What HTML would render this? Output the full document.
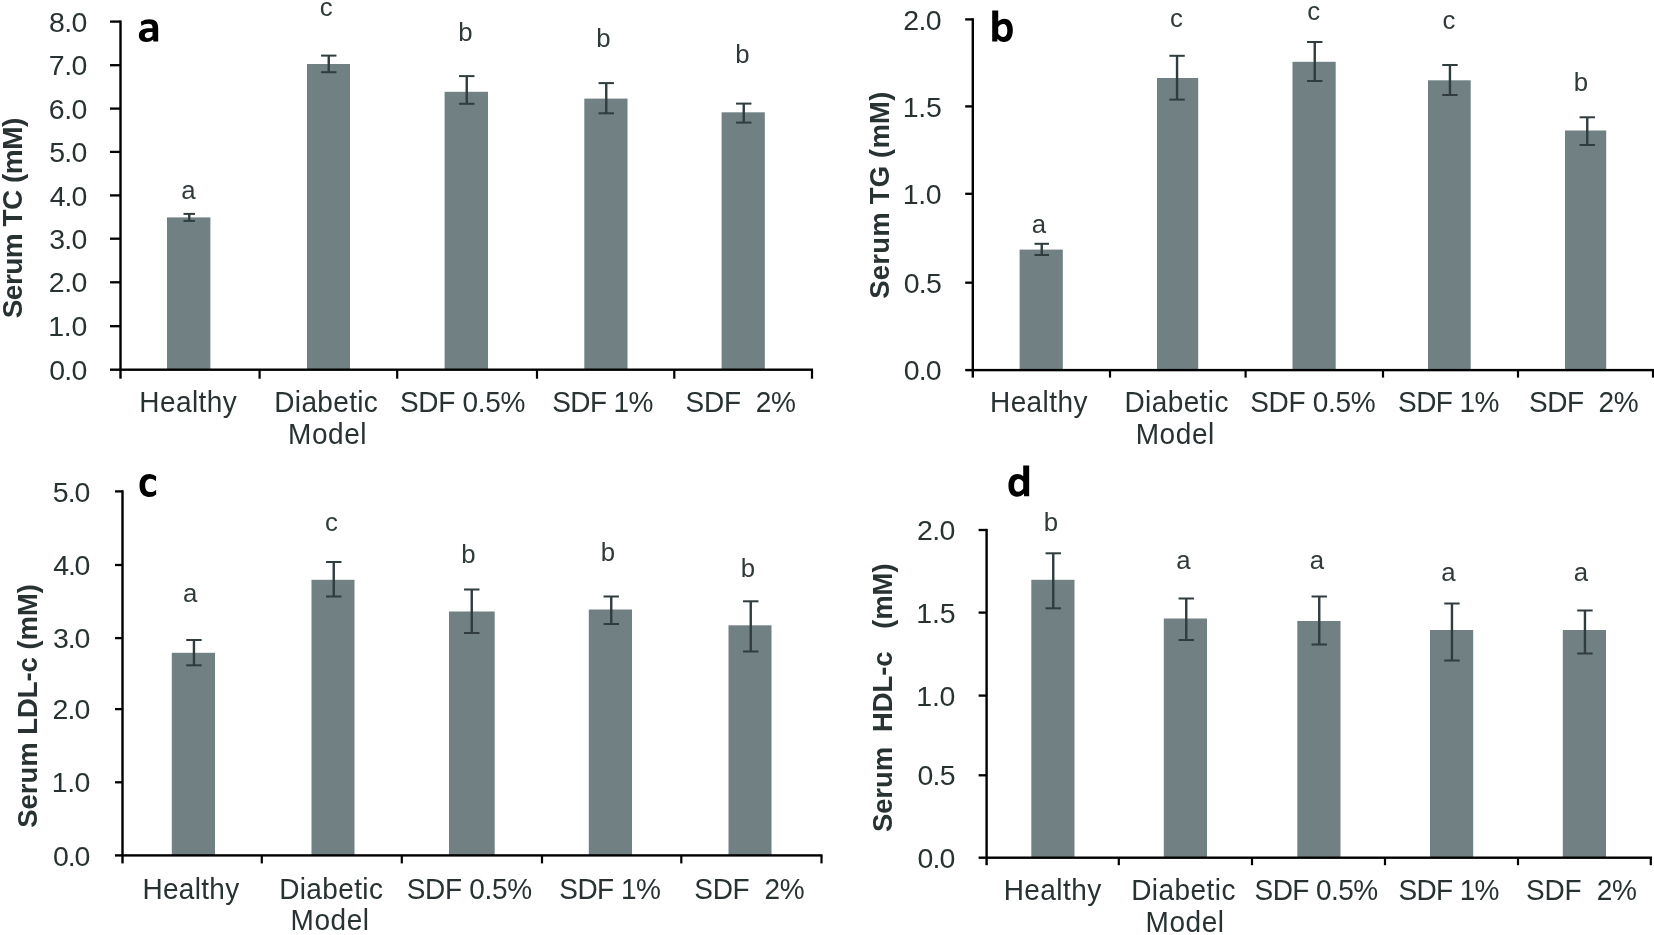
<!DOCTYPE html>
<html>
<head>
<meta charset="utf-8">
<title>Serum lipid levels</title>
<style>
html,body{margin:0;padding:0;background:#fff;}
body{width:1654px;height:935px;overflow:hidden;font-family:"Liberation Sans",sans-serif;}
svg{display:block;will-change:transform;}
svg text{font-family:"Liberation Sans",sans-serif;font-kerning:none;white-space:pre;}
</style>
</head>
<body>
<svg width="1654" height="935" viewBox="0 0 1654 935">
<rect x="0" y="0" width="1654" height="935" fill="#ffffff"/>
<g>
<rect x="167" y="217.4" width="43.4" height="152.3" fill="#708083"/>
<rect x="307" y="64" width="43" height="305.7" fill="#708083"/>
<rect x="444.6" y="91.8" width="43.4" height="277.9" fill="#708083"/>
<rect x="584.3" y="98.6" width="43.2" height="271.1" fill="#708083"/>
<rect x="721.6" y="112.3" width="43.2" height="257.4" fill="#708083"/>
<rect x="188.05" y="213.9" width="2.4" height="7" fill="#303c3e"/>
<rect x="183.5" y="212.9" width="11.5" height="2" fill="#303c3e"/>
<rect x="183.5" y="219.9" width="11.5" height="2" fill="#303c3e"/>
<rect x="327.55" y="55.6" width="2.4" height="16.6" fill="#303c3e"/>
<rect x="321.05" y="54.6" width="15.4" height="2" fill="#303c3e"/>
<rect x="321.05" y="71.2" width="15.4" height="2" fill="#303c3e"/>
<rect x="465.55" y="76.1" width="2.4" height="27.7" fill="#303c3e"/>
<rect x="459.05" y="75.1" width="15.4" height="2" fill="#303c3e"/>
<rect x="459.05" y="102.8" width="15.4" height="2" fill="#303c3e"/>
<rect x="605.05" y="83.1" width="2.4" height="30.2" fill="#303c3e"/>
<rect x="598.55" y="82.1" width="15.4" height="2" fill="#303c3e"/>
<rect x="598.55" y="112.3" width="15.4" height="2" fill="#303c3e"/>
<rect x="742.55" y="103.6" width="2.4" height="19" fill="#303c3e"/>
<rect x="736.05" y="102.6" width="15.4" height="2" fill="#303c3e"/>
<rect x="736.05" y="121.6" width="15.4" height="2" fill="#303c3e"/>
<rect x="119.3" y="20.45" width="2.4" height="358.25" fill="#000000"/>
<rect x="110" y="368.5" width="703" height="2.4" fill="#000000"/>
<text x="49.19" y="379.8" font-size="28.5" letter-spacing="-0.7" fill="#283232">0.0</text>
<rect x="110" y="325.05" width="10.5" height="2.3" fill="#000000"/>
<text x="48.13" y="336.3" font-size="28.5" letter-spacing="-0.17" fill="#283232">1.0</text>
<rect x="110" y="281.15" width="10.5" height="2.3" fill="#000000"/>
<text x="48.87" y="292.4" font-size="28.5" letter-spacing="-0.54" fill="#283232">2.0</text>
<rect x="110" y="237.55" width="10.5" height="2.3" fill="#000000"/>
<text x="49.21" y="248.8" font-size="28.5" letter-spacing="-0.71" fill="#283232">3.0</text>
<rect x="110" y="194.25" width="10.5" height="2.3" fill="#000000"/>
<text x="49.65" y="205.5" font-size="28.5" letter-spacing="-0.93" fill="#283232">4.0</text>
<rect x="110" y="150.75" width="10.5" height="2.3" fill="#000000"/>
<text x="49.16" y="162" font-size="28.5" letter-spacing="-0.68" fill="#283232">5.0</text>
<rect x="110" y="107.45" width="10.5" height="2.3" fill="#000000"/>
<text x="48.85" y="118.7" font-size="28.5" letter-spacing="-0.53" fill="#283232">6.0</text>
<rect x="110" y="64.05" width="10.5" height="2.3" fill="#000000"/>
<text x="48.84" y="75.3" font-size="28.5" letter-spacing="-0.52" fill="#283232">7.0</text>
<rect x="110" y="20.45" width="10.5" height="2.3" fill="#000000"/>
<text x="49.06" y="31.7" font-size="28.5" letter-spacing="-0.63" fill="#283232">8.0</text>
<rect x="258.5" y="369.7" width="2.2" height="9" fill="#000000"/>
<rect x="396.1" y="369.7" width="2.2" height="9" fill="#000000"/>
<rect x="535.9" y="369.7" width="2.2" height="9" fill="#000000"/>
<rect x="673.2" y="369.7" width="2.2" height="9" fill="#000000"/>
<rect x="810.9" y="369.7" width="2.2" height="9" fill="#000000"/>
<text transform="translate(139.3 412.3) scale(1 1.03)" font-size="28" letter-spacing="0.42" fill="#283232">Healthy</text>
<text transform="translate(274.3 412.3) scale(1 1.03)" font-size="28" letter-spacing="0.35" fill="#283232">Diabetic</text>
<text transform="translate(288 444.2) scale(1 1.03)" font-size="28" letter-spacing="0.58" fill="#283232">Model</text>
<text transform="translate(399.93 412.3) scale(1 1.03)" font-size="28" letter-spacing="-0.29" fill="#283232">SDF&#160;0.5%</text>
<text transform="translate(552.23 412.3) scale(1 1.03)" font-size="28" letter-spacing="-0.6" fill="#283232">SDF&#160;1%</text>
<text transform="translate(685.53 412.3) scale(1 1.03)" font-size="28" letter-spacing="-0.26" fill="#283232">SDF&#160;&#160;2%</text>
<text x="181.3" y="198.5" font-size="25.8" fill="#303a3a">a</text>
<text x="319.7" y="15.5" font-size="25.8" fill="#303a3a">c</text>
<text x="458.14" y="40.6" font-size="25.8" fill="#303a3a">b</text>
<text x="596.34" y="47.4" font-size="25.8" fill="#303a3a">b</text>
<text x="735.14" y="63.4" font-size="25.8" fill="#303a3a">b</text>
<text transform="translate(21.6 318.31) rotate(-90)" font-size="28" font-weight="bold" letter-spacing="-0.52" fill="#283232">Serum&#160;TC&#160;(mM)</text>
<path transform="translate(100 0) scale(0.06289)" fill="#000" fill-rule="evenodd" d="M650,345C690,318 740,305 785,305C880,305 925,350 925,440L925,660L850,660L845,628C815,655 775,668 735,668C665,668 618,630 618,565C618,490 680,450 780,450L835,450L835,432C835,395 810,378 770,378C730,378 690,392 660,412ZM835,510L790,510C740,510 712,530 712,562C712,590 732,607 762,607C790,607 815,592 835,570Z"/>
</g>
<g>
<rect x="1019.6" y="249.6" width="43.2" height="120.5" fill="#708083"/>
<rect x="1157" y="78" width="41.2" height="292.1" fill="#708083"/>
<rect x="1292.5" y="61.8" width="43.2" height="308.3" fill="#708083"/>
<rect x="1428" y="80.3" width="42.7" height="289.8" fill="#708083"/>
<rect x="1565" y="130.5" width="41.2" height="239.6" fill="#708083"/>
<rect x="1040.55" y="243.8" width="2.4" height="11.2" fill="#303c3e"/>
<rect x="1034.5" y="242.8" width="14.5" height="2" fill="#303c3e"/>
<rect x="1034.5" y="254" width="14.5" height="2" fill="#303c3e"/>
<rect x="1175.85" y="55.8" width="2.4" height="43.8" fill="#303c3e"/>
<rect x="1169.35" y="54.8" width="15.4" height="2" fill="#303c3e"/>
<rect x="1169.35" y="98.6" width="15.4" height="2" fill="#303c3e"/>
<rect x="1313.55" y="42" width="2.4" height="39" fill="#303c3e"/>
<rect x="1307.05" y="41" width="15.4" height="2" fill="#303c3e"/>
<rect x="1307.05" y="80" width="15.4" height="2" fill="#303c3e"/>
<rect x="1448.75" y="65" width="2.4" height="30" fill="#303c3e"/>
<rect x="1442.25" y="64" width="15.4" height="2" fill="#303c3e"/>
<rect x="1442.25" y="94" width="15.4" height="2" fill="#303c3e"/>
<rect x="1586.05" y="117.3" width="2.4" height="27.7" fill="#303c3e"/>
<rect x="1579.55" y="116.3" width="15.4" height="2" fill="#303c3e"/>
<rect x="1579.55" y="144" width="15.4" height="2" fill="#303c3e"/>
<rect x="971.6" y="18.25" width="2.4" height="359.35" fill="#000000"/>
<rect x="965.2" y="368.9" width="689.8" height="2.4" fill="#000000"/>
<text x="903.69" y="380.2" font-size="28.5" letter-spacing="-0.8" fill="#283232">0.0</text>
<rect x="965.2" y="281.55" width="7.6" height="2.3" fill="#000000"/>
<text x="903.69" y="292.8" font-size="28.5" letter-spacing="-0.75" fill="#283232">0.5</text>
<rect x="965.2" y="192.65" width="7.6" height="2.3" fill="#000000"/>
<text x="902.63" y="203.9" font-size="28.5" letter-spacing="-0.27" fill="#283232">1.0</text>
<rect x="965.2" y="105.25" width="7.6" height="2.3" fill="#000000"/>
<text x="902.63" y="116.5" font-size="28.5" letter-spacing="-0.23" fill="#283232">1.5</text>
<rect x="965.2" y="18.25" width="7.6" height="2.3" fill="#000000"/>
<text x="903.37" y="29.5" font-size="28.5" letter-spacing="-0.64" fill="#283232">2.0</text>
<rect x="1108.9" y="370.1" width="2.2" height="7.5" fill="#000000"/>
<rect x="1244.5" y="370.1" width="2.2" height="7.5" fill="#000000"/>
<rect x="1381.9" y="370.1" width="2.2" height="7.5" fill="#000000"/>
<rect x="1516.9" y="370.1" width="2.2" height="7.5" fill="#000000"/>
<rect x="1651.9" y="370.1" width="2.2" height="7.5" fill="#000000"/>
<text transform="translate(990 412.4) scale(1 1.03)" font-size="28" letter-spacing="0.42" fill="#283232">Healthy</text>
<text transform="translate(1124.5 412.4) scale(1 1.03)" font-size="28" letter-spacing="0.4" fill="#283232">Diabetic</text>
<text transform="translate(1135.7 444.3) scale(1 1.03)" font-size="28" letter-spacing="0.6" fill="#283232">Model</text>
<text transform="translate(1250.23 412.4) scale(1 1.03)" font-size="28" letter-spacing="-0.3" fill="#283232">SDF&#160;0.5%</text>
<text transform="translate(1398.03 412.4) scale(1 1.03)" font-size="28" letter-spacing="-0.56" fill="#283232">SDF&#160;1%</text>
<text transform="translate(1529.03 412.4) scale(1 1.03)" font-size="28" letter-spacing="-0.39" fill="#283232">SDF&#160;&#160;2%</text>
<text x="1031.7" y="232.8" font-size="25.8" fill="#303a3a">a</text>
<text x="1169.9" y="26.8" font-size="25.8" fill="#303a3a">c</text>
<text x="1307.2" y="19.8" font-size="25.8" fill="#303a3a">c</text>
<text x="1442.4" y="29.3" font-size="25.8" fill="#303a3a">c</text>
<text x="1573.64" y="91" font-size="25.8" fill="#303a3a">b</text>
<text transform="translate(889 298.79) rotate(-90)" font-size="27.5" font-weight="bold" letter-spacing="0.2" fill="#283232">Serum&#160;TG&#160;(mM)</text>
<path transform="translate(960 0) scale(0.06289)" fill="#000" fill-rule="evenodd" d="M512,165L608,165L608,340C635,315 668,300 705,300C790,300 840,370 840,480C840,595 785,668 700,668C655,668 625,650 597,615L592,660L512,660ZM608,430L608,535C630,565 655,588 688,588C730,588 752,548 752,485C752,420 730,382 688,382C655,382 630,402 608,430Z"/>
</g>
<g>
<rect x="171.8" y="652.8" width="43.2" height="202.6" fill="#708083"/>
<rect x="311.5" y="579.8" width="43" height="275.6" fill="#708083"/>
<rect x="449" y="611.5" width="45.7" height="243.9" fill="#708083"/>
<rect x="588.8" y="609.5" width="43.2" height="245.9" fill="#708083"/>
<rect x="728.5" y="625.3" width="43" height="230.1" fill="#708083"/>
<rect x="192.75" y="640" width="2.4" height="25.3" fill="#303c3e"/>
<rect x="186.25" y="639" width="15.4" height="2" fill="#303c3e"/>
<rect x="186.25" y="664.3" width="15.4" height="2" fill="#303c3e"/>
<rect x="332.55" y="562" width="2.4" height="34.5" fill="#303c3e"/>
<rect x="326.05" y="561" width="15.4" height="2" fill="#303c3e"/>
<rect x="326.05" y="595.5" width="15.4" height="2" fill="#303c3e"/>
<rect x="470.55" y="589.5" width="2.4" height="43.5" fill="#303c3e"/>
<rect x="464.05" y="588.5" width="15.4" height="2" fill="#303c3e"/>
<rect x="464.05" y="632" width="15.4" height="2" fill="#303c3e"/>
<rect x="610.05" y="596.5" width="2.4" height="27.5" fill="#303c3e"/>
<rect x="603.55" y="595.5" width="15.4" height="2" fill="#303c3e"/>
<rect x="603.55" y="623" width="15.4" height="2" fill="#303c3e"/>
<rect x="749.55" y="601.3" width="2.4" height="50.2" fill="#303c3e"/>
<rect x="743.05" y="600.3" width="15.4" height="2" fill="#303c3e"/>
<rect x="743.05" y="650.5" width="15.4" height="2" fill="#303c3e"/>
<rect x="121.3" y="490.25" width="2.4" height="373.15" fill="#000000"/>
<rect x="115" y="854.2" width="707.5" height="2.4" fill="#000000"/>
<text x="52.89" y="865.5" font-size="28.5" letter-spacing="-1.05" fill="#283232">0.0</text>
<rect x="115" y="781.15" width="7.5" height="2.3" fill="#000000"/>
<text x="51.83" y="792.4" font-size="28.5" letter-spacing="-0.52" fill="#283232">1.0</text>
<rect x="115" y="707.95" width="7.5" height="2.3" fill="#000000"/>
<text x="52.57" y="719.2" font-size="28.5" letter-spacing="-0.89" fill="#283232">2.0</text>
<rect x="115" y="636.95" width="7.5" height="2.3" fill="#000000"/>
<text x="52.91" y="648.2" font-size="28.5" letter-spacing="-1.06" fill="#283232">3.0</text>
<rect x="115" y="563.85" width="7.5" height="2.3" fill="#000000"/>
<text x="53.35" y="575.1" font-size="28.5" letter-spacing="-1.28" fill="#283232">4.0</text>
<rect x="115" y="490.25" width="7.5" height="2.3" fill="#000000"/>
<text x="52.86" y="501.5" font-size="28.5" letter-spacing="-1.03" fill="#283232">5.0</text>
<rect x="260.7" y="855.4" width="2.2" height="8" fill="#000000"/>
<rect x="400.7" y="855.4" width="2.2" height="8" fill="#000000"/>
<rect x="540.9" y="855.4" width="2.2" height="8" fill="#000000"/>
<rect x="680.2" y="855.4" width="2.2" height="8" fill="#000000"/>
<rect x="820.4" y="855.4" width="2.2" height="8" fill="#000000"/>
<text transform="translate(142.5 898.6) scale(1 1.03)" font-size="28" letter-spacing="0.3" fill="#283232">Healthy</text>
<text transform="translate(279.2 898.6) scale(1 1.03)" font-size="28" letter-spacing="0.37" fill="#283232">Diabetic</text>
<text transform="translate(290.5 929.8) scale(1 1.03)" font-size="28" letter-spacing="0.58" fill="#283232">Model</text>
<text transform="translate(406.73 898.6) scale(1 1.03)" font-size="28" letter-spacing="-0.29" fill="#283232">SDF&#160;0.5%</text>
<text transform="translate(559.23 898.6) scale(1 1.03)" font-size="28" letter-spacing="-0.5" fill="#283232">SDF&#160;1%</text>
<text transform="translate(694.23 898.6) scale(1 1.03)" font-size="28" letter-spacing="-0.26" fill="#283232">SDF&#160;&#160;2%</text>
<text x="182.9" y="601.8" font-size="25.8" fill="#303a3a">a</text>
<text x="324.9" y="531" font-size="25.8" fill="#303a3a">c</text>
<text x="461.34" y="562.6" font-size="25.8" fill="#303a3a">b</text>
<text x="600.84" y="560.6" font-size="25.8" fill="#303a3a">b</text>
<text x="740.64" y="576.8" font-size="25.8" fill="#303a3a">b</text>
<text transform="translate(37.3 827.79) rotate(-90)" font-size="27.5" font-weight="bold" letter-spacing="-0.05" fill="#283232">Serum&#160;LDL-c&#160;(mM)</text>
<path transform="translate(100 462) scale(0.06289)" fill="#000" fill-rule="evenodd" d="M893,232C865,205 825,190 785,190C685,190 628,255 628,375C628,490 685,555 780,555C825,555 865,542 893,515L893,440C870,462 840,478 805,478C750,478 718,440 718,372C718,305 750,268 803,268C838,268 866,283 890,305Z"/>
</g>
<g>
<rect x="1031.3" y="579.8" width="43.2" height="277.9" fill="#708083"/>
<rect x="1163.8" y="618.5" width="43.2" height="239.2" fill="#708083"/>
<rect x="1297.3" y="621" width="43.2" height="236.7" fill="#708083"/>
<rect x="1430" y="630" width="43.2" height="227.7" fill="#708083"/>
<rect x="1562.8" y="630" width="43.2" height="227.7" fill="#708083"/>
<rect x="1052.05" y="553.3" width="2.4" height="55" fill="#303c3e"/>
<rect x="1045.55" y="552.3" width="15.4" height="2" fill="#303c3e"/>
<rect x="1045.55" y="607.3" width="15.4" height="2" fill="#303c3e"/>
<rect x="1185.05" y="598.5" width="2.4" height="41.5" fill="#303c3e"/>
<rect x="1178.55" y="597.5" width="15.4" height="2" fill="#303c3e"/>
<rect x="1178.55" y="639" width="15.4" height="2" fill="#303c3e"/>
<rect x="1318.05" y="596.5" width="2.4" height="48" fill="#303c3e"/>
<rect x="1311.55" y="595.5" width="15.4" height="2" fill="#303c3e"/>
<rect x="1311.55" y="643.5" width="15.4" height="2" fill="#303c3e"/>
<rect x="1450.75" y="603.5" width="2.4" height="57" fill="#303c3e"/>
<rect x="1444.25" y="602.5" width="15.4" height="2" fill="#303c3e"/>
<rect x="1444.25" y="659.5" width="15.4" height="2" fill="#303c3e"/>
<rect x="1583.75" y="610.5" width="2.4" height="43" fill="#303c3e"/>
<rect x="1577.25" y="609.5" width="15.4" height="2" fill="#303c3e"/>
<rect x="1577.25" y="652.5" width="15.4" height="2" fill="#303c3e"/>
<rect x="985.4" y="528.85" width="2.4" height="336.35" fill="#000000"/>
<rect x="978.6" y="856.5" width="673.4" height="2.4" fill="#000000"/>
<text x="917.39" y="867.8" font-size="28.5" letter-spacing="-0.8" fill="#283232">0.0</text>
<rect x="978.6" y="774.15" width="8" height="2.3" fill="#000000"/>
<text x="917.39" y="785.4" font-size="28.5" letter-spacing="-0.75" fill="#283232">0.5</text>
<rect x="978.6" y="694.45" width="8" height="2.3" fill="#000000"/>
<text x="916.33" y="705.7" font-size="28.5" letter-spacing="-0.27" fill="#283232">1.0</text>
<rect x="978.6" y="611.45" width="8" height="2.3" fill="#000000"/>
<text x="916.33" y="622.7" font-size="28.5" letter-spacing="-0.23" fill="#283232">1.5</text>
<rect x="978.6" y="528.85" width="8" height="2.3" fill="#000000"/>
<text x="917.07" y="540.1" font-size="28.5" letter-spacing="-0.64" fill="#283232">2.0</text>
<rect x="1117.7" y="857.7" width="2.2" height="7.5" fill="#000000"/>
<rect x="1250.9" y="857.7" width="2.2" height="7.5" fill="#000000"/>
<rect x="1383.9" y="857.7" width="2.2" height="7.5" fill="#000000"/>
<rect x="1516.9" y="857.7" width="2.2" height="7.5" fill="#000000"/>
<rect x="1649.7" y="857.7" width="2.2" height="7.5" fill="#000000"/>
<text transform="translate(1003.7 900.3) scale(1 1.03)" font-size="28" letter-spacing="0.44" fill="#283232">Healthy</text>
<text transform="translate(1131.2 900.3) scale(1 1.03)" font-size="28" letter-spacing="0.44" fill="#283232">Diabetic</text>
<text transform="translate(1145.5 931.6) scale(1 1.03)" font-size="28" letter-spacing="0.58" fill="#283232">Model</text>
<text transform="translate(1254.53 900.3) scale(1 1.03)" font-size="28" letter-spacing="-0.56" fill="#283232">SDF&#160;0.5%</text>
<text transform="translate(1398.53 900.3) scale(1 1.03)" font-size="28" letter-spacing="-0.66" fill="#283232">SDF&#160;1%</text>
<text transform="translate(1526.03 900.3) scale(1 1.03)" font-size="28" letter-spacing="-0.18" fill="#283232">SDF&#160;&#160;2%</text>
<text x="1043.64" y="531.3" font-size="25.8" fill="#303a3a">b</text>
<text x="1176.2" y="569.3" font-size="25.8" fill="#303a3a">a</text>
<text x="1309.7" y="569.3" font-size="25.8" fill="#303a3a">a</text>
<text x="1441.2" y="581" font-size="25.8" fill="#303a3a">a</text>
<text x="1573.7" y="581" font-size="25.8" fill="#303a3a">a</text>
<text transform="translate(892.3 832.09) rotate(-90)" font-size="27.5" font-weight="bold" letter-spacing="-0.1" fill="#283232">Serum&#160;&#160;HDL-c&#160;&#160;&#160;(mM)</text>
<path transform="translate(960 462) scale(0.06289)" fill="#000" fill-rule="evenodd" d="M1005,55L1100,55L1100,545L1020,545L1015,500C985,535 950,552 905,552C820,552 770,485 770,375C770,260 825,190 912,190C950,190 980,203 1005,228ZM1005,320C985,292 960,272 930,272C885,272 860,310 860,372C860,435 882,472 925,472C958,472 985,450 1005,420Z"/>
</g>
</svg>
</body>
</html>
